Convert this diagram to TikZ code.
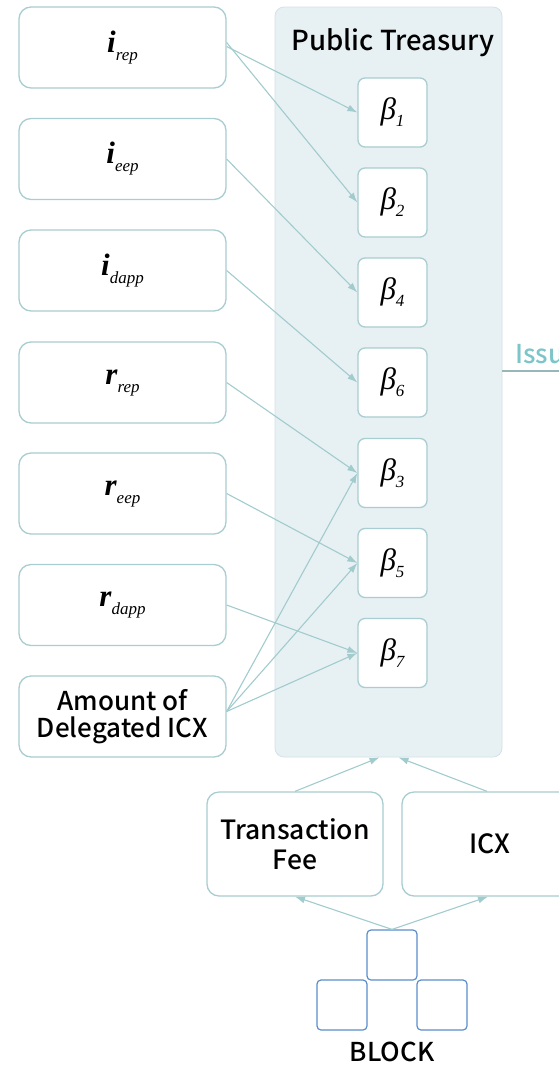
\documentclass[tikz,border=0pt]{standalone}
\usepackage{fontspec}
\setmainfont{Noto Sans CJK KR Medium}
\newfontfamily\symfont{Liberation Serif}
\usepackage{tikz}
\usetikzlibrary{arrows.meta}
\definecolor{boxline}{HTML}{A9CDD1}
\definecolor{arrowline}{HTML}{A2CBCE}
\definecolor{panelfill}{HTML}{E7F1F4}
\definecolor{paneledge}{HTML}{D3E2E6}
\definecolor{blockline}{HTML}{5A8ECB}
\definecolor{issuteal}{HTML}{7CC5C8}
\definecolor{issuline}{HTML}{9AB5B8}
% rate symbol with an italic subscript
\newcommand{\rate}[2]{{\symfont\bfseries\itshape #1}\raisebox{-8pt}{\symfont\itshape\fontsize{17}{17}\selectfont #2}}
\newcommand{\coef}[1]{{\symfont\itshape β\raisebox{-7pt}{\fontsize{17}{17}\selectfont #1}}}

\begin{document}
\begin{tikzpicture}[x=1pt, y=-1pt,
    inbox/.style={draw=boxline, line width=1.3pt, rounded corners=12pt, fill=white,
        minimum width=207pt, minimum height=81pt, align=center,
        font=\fontsize{26}{27}\selectfont},
    mathbox/.style={inbox, font=\fontsize{31}{32}\selectfont},
    betabox/.style={draw=boxline, line width=1.3pt, rounded corners=7pt, fill=white,
        minimum width=69pt, minimum height=69pt, font=\fontsize{31}{32}\selectfont},
    srcbox/.style={draw=boxline, line width=1.3pt, rounded corners=12pt, fill=white,
        minimum width=176pt, minimum height=104pt, align=center,
        font=\fontsize{26.5}{30}\selectfont},
    blockbox/.style={draw=blockline, line width=1.2pt, rounded corners=4pt, fill=white,
        minimum width=50pt, minimum height=50pt},
    flow/.style={draw=arrowline, line width=1.1pt, -{Latex[length=10pt,width=7pt]}}]
    \useasboundingbox (0,0) rectangle (559,1066);
    \clip (0,0) rectangle (559,1066);
    % Public treasury panel
    \node[fill=panelfill, draw=paneledge, line width=0.8pt, rounded corners=9pt,
        minimum width=227pt, minimum height=750pt] (treasury) at (388.5,382) {};
    \node[font=\fontsize{27.5}{28}\selectfont] (title) at (393,43) {Public Treasury};
    % Issuance line to the right (cut off)
    \coordinate (issuL) at (502,371);
    \coordinate (issuR) at (570,371);
    \draw[issuline, line width=1.5pt] (issuL) -- (issuR);
    \node[anchor=base west, text=issuteal, inner sep=0pt,
        font=\fontsize{26}{27}\selectfont] (issu) at (515,363) {Issu};
    % Input boxes on the left
    \node[mathbox] (irep) at (122.5,47.5) {\rate{i}{rep}};
    \node[mathbox] (ieep) at (122.5,159) {\rate{i}{eep}};
    \node[mathbox] (idapp) at (122.5,270.5) {\rate{i}{dapp}};
    \node[mathbox] (rrep) at (122.5,382.5) {\rate{r}{rep}};
    \node[mathbox] (reep) at (122.5,493.5) {\rate{r}{eep}};
    \node[mathbox] (rdapp) at (122.5,605) {\rate{r}{dapp}};
    \node[inbox] (deleg) at (122.5,716.5) {Amount of\\Delegated ICX};
    % Beta boxes inside the treasury
    \node[betabox] (b1) at (392.5,112.5) {\coef{1}};
    \node[betabox] (b2) at (392.5,202.5) {\coef{2}};
    \node[betabox] (b4) at (392.5,292.5) {\coef{4}};
    \node[betabox] (b6) at (392.5,382.5) {\coef{6}};
    \node[betabox] (b3) at (392.5,473) {\coef{3}};
    \node[betabox] (b5) at (392.5,563) {\coef{5}};
    \node[betabox] (b7) at (392.5,653) {\coef{7}};
    % Arrows from inputs to betas
    \draw[flow] ([yshift=1pt]irep.east) -- (b1.west);
    \draw[flow] ([yshift=5pt]irep.east) -- (b2.west);
    \draw[flow] (ieep.east) -- (b4.west);
    \draw[flow] (idapp.east) -- (b6.west);
    \draw[flow] (rrep.east) -- (b3.west);
    \draw[flow] (reep.east) -- (b5.west);
    \draw[flow] (rdapp.east) -- (b7.west);
    \draw[flow] ([yshift=5pt]deleg.east) -- (b3.west);
    \draw[flow] ([yshift=5pt]deleg.east) -- (b5.west);
    \draw[flow] ([yshift=5pt]deleg.east) -- (b7.west);
    % Sources below the treasury
    \node[srcbox] (txfee) at (295,844) {Transaction\\Fee};
    \node[srcbox] (icx) at (490,844) {ICX};
    \draw[flow] (txfee.north) -- ([xshift=-9pt]treasury.south);
    \draw[flow] ([xshift=-3pt]icx.north) -- ([xshift=10pt]treasury.south);
    % Block symbol
    \node[blockbox] (blktop) at (392,955) {};
    \node[blockbox] (blkleft) at (342,1005) {};
    \node[blockbox] (blkright) at (442,1005) {};
    \node[font=\fontsize{26}{27}\selectfont] (blocklabel) at (392,1052) {BLOCK};
    \draw[flow] (blktop.north) -- (txfee.south);
    \draw[flow] (blktop.north) -- ([xshift=-2pt]icx.south);
\end{tikzpicture}
\end{document}
